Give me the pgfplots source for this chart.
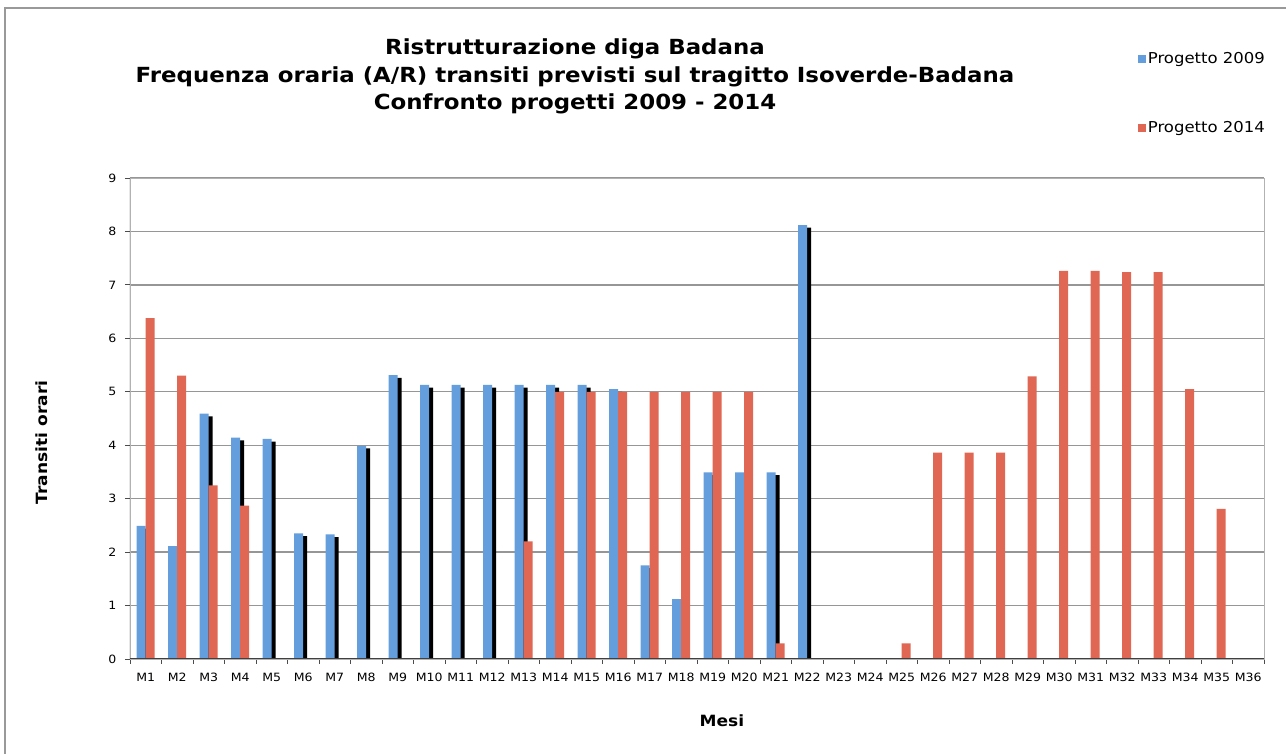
\documentclass[border=0pt]{standalone}
\usepackage{fontspec}
\setmainfont{DejaVu Sans}[FakeStretch=1.1]
\usepackage{pgfplots}
\usepackage{pgfplotstable}
\pgfplotsset{compat=1.18}

\definecolor{blu}{RGB}{101,158,220}
\definecolor{ross}{RGB}{224,103,84}
\definecolor{griglia}{RGB}{150,150,150}

% Progetto 2009
\pgfplotstableread{
m v
1 2.49
2 2.11
3 4.59
4 4.14
5 4.12
6 2.35
7 2.33
8 3.99
9 5.31
10 5.13
11 5.13
12 5.13
13 5.13
14 5.13
15 5.13
16 5.05
17 1.75
18 1.12
19 3.49
20 3.49
21 3.49
22 8.12
23 0
24 0
25 0
26 0
27 0
28 0
29 0
30 0
31 0
32 0
33 0
34 0
35 0
36 0
}\pnove

% Progetto 2014
\pgfplotstableread{
m v
1 6.38
2 5.30
3 3.25
4 2.87
5 0
6 0
7 0
8 0
9 0
10 0
11 0
12 0
13 2.20
14 5.00
15 5.00
16 5.00
17 5.00
18 5.00
19 5.00
20 5.00
21 0.29
22 0
23 0
24 0
25 0.29
26 3.86
27 3.86
28 3.86
29 5.29
30 7.26
31 7.26
32 7.24
33 7.24
34 5.05
35 2.81
36 0
}\pquattordici

\begin{document}
\begin{tikzpicture}
\useasboundingbox (0,0) rectangle (1286pt,754pt);
\fill[white] (0,0) rectangle (1286pt,754pt);
\draw[gray!80, line width=1.2pt] (5pt,0pt) -- (5pt,746pt) -- (1286pt,746pt);

\node[align=center, font=\bfseries\fontsize{20.8}{27.5}\selectfont] at (575pt,677.5pt)
  {Ristrutturazione diga Badana\\
   Frequenza oraria (A/R) transiti previsti sul tragitto Isoverde-Badana\\
   Confronto progetti 2009 - 2014};

\begin{axis}[
  at={(130pt,95pt)}, anchor=south west,
  scale only axis, width=1134pt, height=481pt,
  ybar, bar width=9pt,
  xmin=0.5, xmax=36.5, ymin=0, ymax=9,
  xtick={1,...,36},
  xticklabels={M1,M2,M3,M4,M5,M6,M7,M8,M9,M10,M11,M12,M13,M14,M15,M16,M17,M18,
    M19,M20,M21,M22,M23,M24,M25,M26,M27,M28,M29,M30,M31,M32,M33,M34,M35,M36},
  minor xtick={0.5,1.5,...,36.5},
  ytick={0,...,9},
  major x tick style={draw=none},
  minor tick length=5pt, major tick length=5pt,
  tick align=outside, tick pos=left,
  every tick/.style={black!70, line width=0.8pt},
  ymajorgrids, grid style={griglia, line width=1.3pt},
  axis line style={gray!60, line width=0.8pt},
  /pgf/number format/assume math mode=true,
  ticklabel style={font=\fontsize{11.4}{13}\selectfont},
  xticklabel style={yshift=-6pt},
  yticklabel style={xshift=-5pt},
  xlabel={Mesi}, ylabel={Transiti orari},
  label style={font=\bfseries\fontsize{15.5}{18}\selectfont},
  xlabel style={at={(axis description cs:0.522,-0.129)}, anchor=center},
  ylabel style={at={(axis description cs:-0.078,0.45)}, anchor=center},
  legend style={at={(0.886,1.270)}, anchor=north west, draw=none, fill=none,
    font=\fontsize{15}{17}\selectfont, row sep=52.5pt,
    /tikz/every even column/.append style={column sep=1pt}},
  legend cell align=left,
]
\addplot[fill=black, draw=none, bar shift=-4.5pt, xshift=4pt, yshift=-2.7pt, forget plot]
  table[x=m, y=v] {\pnove};
\addplot[fill=blu, draw=none, bar shift=-4.5pt,
  legend image code/.code={\fill[blu] (0pt,-4pt) rectangle (8pt,4pt);}]
  table[x=m, y=v] {\pnove};
\addplot[fill=ross, draw=none, bar shift=4.5pt,
  legend image code/.code={\fill[ross] (0pt,-4pt) rectangle (8pt,4pt);}]
  table[x=m, y=v] {\pquattordici};
\legend{Progetto 2009, Progetto 2014}
\draw[black!75, line width=1pt] (rel axis cs:0,1) -- (rel axis cs:0,0) -- (rel axis cs:1,0);
\end{axis}
\end{tikzpicture}
\end{document}
